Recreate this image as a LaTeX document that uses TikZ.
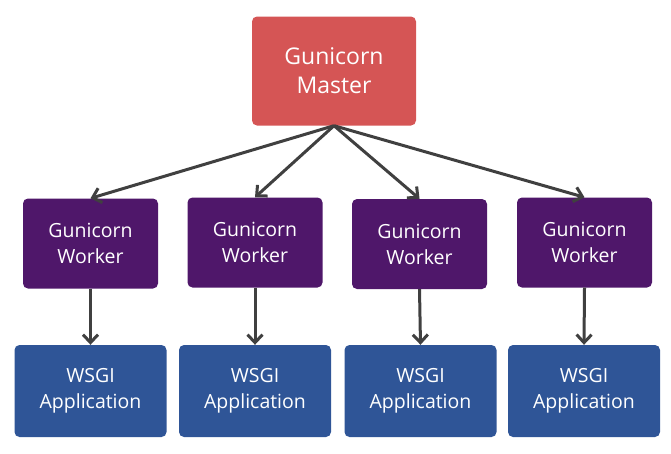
\documentclass[tikz,border=0pt]{standalone}
\usepackage{fontspec}
\setmainfont{Open Sans}
\usepackage{xcolor}
\usetikzlibrary{arrows.meta}

\definecolor{masterred}{HTML}{D55555}
\definecolor{workerpurple}{HTML}{4F176A}
\definecolor{appblue}{HTML}{2F5597}
\definecolor{arrowgrey}{HTML}{404040}

\begin{document}
\begin{tikzpicture}[x=1pt,y=-1pt]
				\tikzstyle{box}=[rounded corners=5pt, text=white, align=center, inner sep=0pt];
				\tikzstyle{master}=[box, fill=masterred, minimum width=164pt, minimum height=109pt, font=\fontsize{23}{29}\selectfont];
				\tikzstyle{worker}=[box, fill=workerpurple, minimum width=135pt, minimum height=90pt, font=\fontsize{19.5}{26}\selectfont];
				\tikzstyle{app}=[box, fill=appblue, minimum width=152pt, minimum height=92pt, font=\fontsize{19.5}{26}\selectfont];
				\tikzstyle{link}=[arrowgrey, line width=3pt, -{Straight Barb[length=8pt, width=15pt, line width=3pt]}];
				
				\useasboundingbox (0, 0) rectangle (671, 453);
				
				%Level 1
				\node[master] (master) at (334, 71) {Gunicorn\\Master};
				
				%Level 2
				\node[worker] (w1) at (90.5, 243.5) {Gunicorn\\Worker};
				\node[worker] (w2) at (255, 242.5) {Gunicorn\\Worker};
				\node[worker] (w3) at (419.5, 244) {Gunicorn\\Worker};
				\node[worker] (w4) at (584.5, 242.5) {Gunicorn\\Worker};
				
				%Level 3
				\node[app] (a1) at (90.5, 391) {WSGI\\Application};
				\node[app] (a2) at (255, 391) {WSGI\\Application};
				\node[app] (a3) at (420.5, 391) {WSGI\\Application};
				\node[app] (a4) at (584, 391) {WSGI\\Application};
				
				%Lines
				\foreach \i in {1,...,4}{
					\draw[link] (master.south) -- (w\i.north);
					\draw[link] (w\i.south) -- (a\i.north);
				}
			\end{tikzpicture}
\end{document}
